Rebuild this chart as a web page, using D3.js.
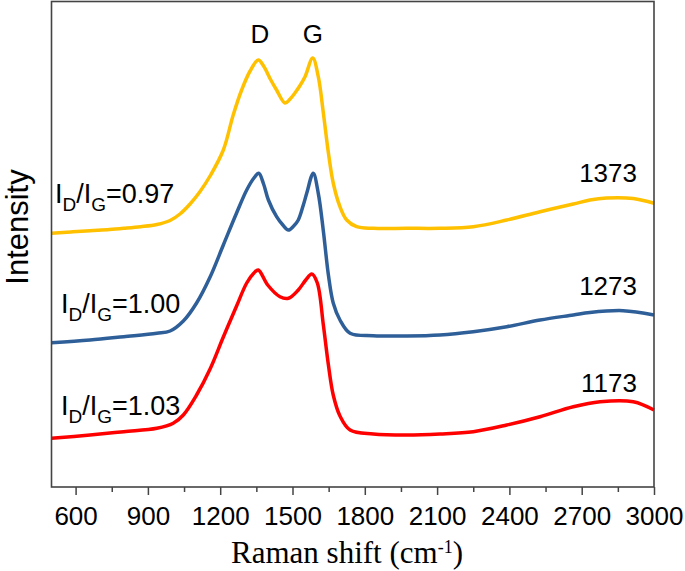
<!DOCTYPE html>
<html>
<head>
<meta charset="utf-8">
<script src="https://cdn.jsdelivr.net/npm/d3@7"></script>
<style>
  html, body { margin: 0; padding: 0; background: #fff; }
  svg { display: block; }
</style>
</head>
<body>
<svg id="chart" width="685" height="571"></svg>
<script>
// ---- data (Raman shift in cm-1, intensity in arbitrary units, offset traces) ----
const xTicks = [600, 900, 1200, 1500, 1800, 2100, 2400, 2700, 3000];
const xMinorTicks = [750, 1050, 1350, 1650, 1950, 2250, 2550, 2850];

const shiftYellow = [500, 580, 660, 740, 800, 870, 937, 992, 1033, 1075, 1115, 1158, 1213, 1254, 1289, 1324, 1358, 1380, 1410, 1434, 1469, 1490, 1510, 1530, 1552, 1584, 1607, 1628, 1649, 1669, 1697, 1725, 1766, 1835, 1974, 2112, 2250, 2389, 2527, 2665, 2734, 2803, 2914, 3000];
const intYellow   = [253.7, 255, 256.3, 257.5, 258.7, 260.3, 262.5, 266.5, 273, 283, 295, 311, 337, 372, 397, 416, 427, 421, 407, 397, 384, 388, 394, 401, 410.3, 429, 410.3, 374, 334, 304, 280.3, 267, 260.3, 258.7, 258.7, 258.7, 260.3, 267, 275.3, 283, 287, 289, 288.5, 283.7];

const shiftBlue = [500, 660, 800, 937, 992, 1047, 1102, 1158, 1213, 1268, 1310, 1340, 1360, 1380, 1400, 1434, 1460, 1483, 1505, 1524, 1545, 1559, 1586, 1607, 1628, 1649, 1669, 1697, 1739, 1835, 1974, 2112, 2250, 2389, 2527, 2665, 2734, 2872, 3000];
const intBlue   = [144.3, 147, 150.3, 153.7, 156, 166, 184, 210, 242, 274, 297, 309, 313.7, 303, 287, 270.3, 262, 257, 261, 267, 282, 293.7, 313.7, 293.7, 256, 212, 184, 167, 153.7, 151.3, 151, 152, 155.3, 160.3, 167, 172, 174.5, 176.3, 172];

const shiftRed = [500, 660, 800, 937, 1005, 1047, 1102, 1158, 1213, 1268, 1310, 1340, 1358, 1397, 1448, 1483, 1524, 1555, 1580, 1603, 1628, 1649, 1669, 1697, 1739, 1835, 1974, 2112, 2250, 2389, 2527, 2665, 2776, 2914, 3000];
const intRed   = [48.7, 52, 55.3, 58.7, 63.7, 72, 92, 118, 150, 181, 204, 214, 217, 202, 190.3, 188.7, 197, 207, 213, 204, 162, 122, 92, 71, 57, 53, 52, 53, 55.3, 62, 70.3, 80.3, 85.3, 85.3, 77];

const seriesNames  = ["1373", "1273", "1173"];
const ratioLabels  = ["0.97", "1.00", "1.03"];
const peakLabels   = ["D", "G"];
const peakPositions = [1365, 1585];

// ---- layout ----
const svg = d3.select("#chart");
const L = 51.5, R = 654, T = 1.5, B = 487;
const x = d3.scaleLinear().domain([500, 3000]).range([L, R]);
const y = d3.scaleLinear().domain([0, 485.5]).range([B, T]);

const series = [
  { xs: shiftYellow, ys: intYellow, color: "#FFC000", name: seriesNames[0], ratio: ratioLabels[0] },
  { xs: shiftBlue,   ys: intBlue,   color: "#2F5F98", name: seriesNames[1], ratio: ratioLabels[1] },
  { xs: shiftRed,    ys: intRed,    color: "#FF0000", name: seriesNames[2], ratio: ratioLabels[2] }
];

const line = d3.line()
  .x(d => x(d[0]))
  .y(d => y(d[1]))
  .curve(d3.curveCatmullRom.alpha(0.5));

svg.append("g").selectAll("path")
  .data(series)
  .join("path")
  .attr("fill", "none")
  .attr("stroke", d => d.color)
  .attr("stroke-width", 3.5)
  .attr("stroke-linejoin", "round")
  .attr("d", d => line(d.xs.map((v, i) => [v, d.ys[i]])));

// frame
svg.append("rect")
  .attr("x", L).attr("y", T)
  .attr("width", R - L).attr("height", B - T)
  .attr("fill", "none")
  .attr("stroke", "#444")
  .attr("stroke-width", 1.6);

// axes
const fontSans = "'Liberation Sans', Arial, sans-serif";
const gx = svg.append("g").attr("transform", `translate(0,${B})`)
  .call(d3.axisBottom(x).tickValues(xTicks).tickSize(8).tickFormat(d3.format("d")));
gx.select(".domain").remove();
gx.selectAll(".tick line").attr("stroke", "#444").attr("stroke-width", 1.5);
gx.selectAll(".tick text")
  .attr("y", 38).attr("dy", null)
  .attr("fill", "#000")
  .style("font-family", fontSans)
  .style("font-size", "26px");

const gm = svg.append("g").attr("transform", `translate(0,${B})`)
  .call(d3.axisBottom(x).tickValues(xMinorTicks).tickSize(5).tickFormat(""));
gm.select(".domain").remove();
gm.selectAll(".tick line").attr("stroke", "#444").attr("stroke-width", 1.5);

// axis titles
const xt = svg.append("text")
  .attr("x", 347).attr("y", 563)
  .attr("text-anchor", "middle")
  .style("font-family", "'Liberation Serif', 'Times New Roman', serif")
  .style("font-size", "31px")
  .attr("fill", "#000");
xt.append("tspan").text("Raman shift (cm");
xt.append("tspan").attr("dy", -10).style("font-size", "18px").text("-1");
xt.append("tspan").attr("dy", 10).text(")");

svg.append("text")
  .attr("transform", "translate(28,227) rotate(-90)")
  .attr("text-anchor", "middle")
  .style("font-family", fontSans)
  .style("font-size", "31px")
  .attr("fill", "#000")
  .text("Intensity");

// peak labels
svg.append("g").selectAll("text")
  .data(peakLabels)
  .join("text")
  .attr("x", (d, i) => x(peakPositions[i]))
  .attr("y", 43)
  .attr("text-anchor", "middle")
  .style("font-family", fontSans)
  .style("font-size", "26px")
  .attr("fill", "#000")
  .text(d => d);

// series value labels on the right
const nameY = [182, 295, 392];
svg.append("g").selectAll("text")
  .data(series)
  .join("text")
  .attr("x", 637)
  .attr("y", (d, i) => nameY[i])
  .attr("text-anchor", "end")
  .style("font-family", fontSans)
  .style("font-size", "26px")
  .attr("fill", "#000")
  .text(d => d.name);

// I_D/I_G ratio labels
const ratioX = [55, 61, 61];
const ratioY = [203, 313, 415];
series.forEach((s, i) => {
  const t = svg.append("text")
    .attr("x", ratioX[i]).attr("y", ratioY[i])
    .style("font-family", fontSans)
    .style("font-size", "27px")
    .attr("fill", "#000");
  t.append("tspan").text("I");
  t.append("tspan").attr("dy", 8).style("font-size", "19px").text("D");
  t.append("tspan").attr("dy", -8).text("/I");
  t.append("tspan").attr("dy", 8).style("font-size", "19px").text("G");
  t.append("tspan").attr("dy", -8).text("=" + s.ratio);
});
</script>
</body>
</html>
